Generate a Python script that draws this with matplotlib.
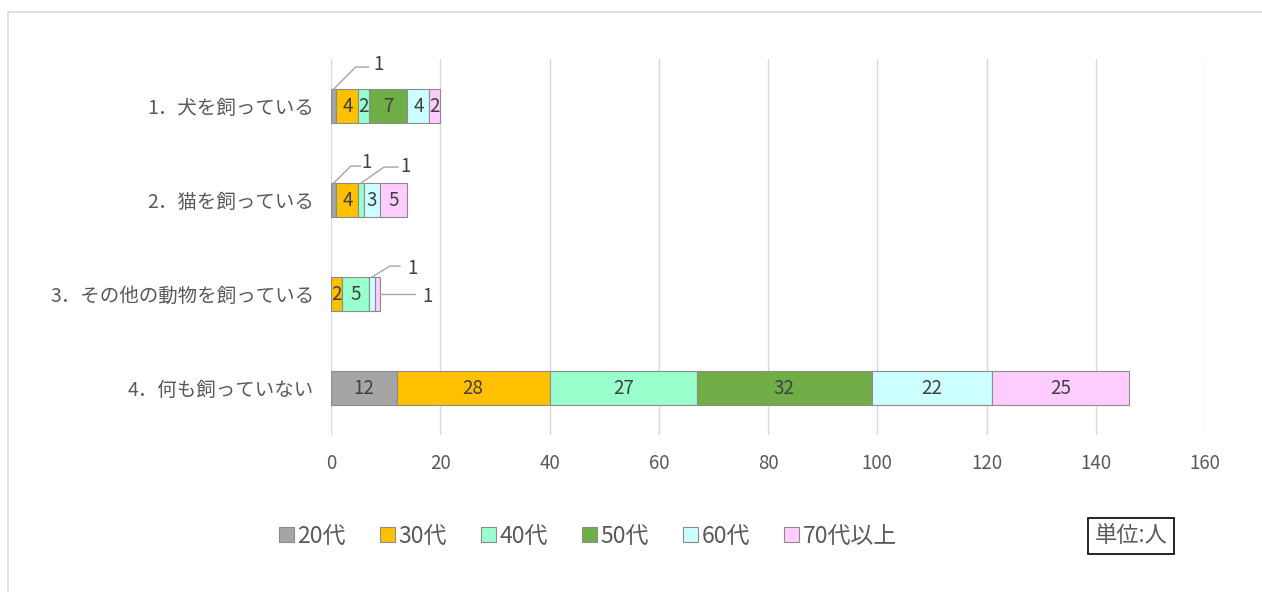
import numpy as np
import matplotlib.pyplot as plt
from matplotlib.patches import Rectangle

plt.rcParams['font.family'] = ['Noto Sans CJK JP', 'DejaVu Sans']

categories = ['1．犬を飼っている', '2．猫を飼っている', '3．その他の動物を飼っている', '4．何も飼っていない']
ages = ['20代', '30代', '40代', '50代', '60代', '70代以上']
# rows: age groups, columns: categories
counts = {
    '20代':     [1, 1, 0, 12],
    '30代':     [4, 4, 2, 28],
    '40代':     [2, 1, 5, 27],
    '50代':     [7, 0, 0, 32],
    '60代':     [4, 3, 1, 22],
    '70代以上': [2, 5, 1, 25],
}
colors = ['#A5A5A5', '#FFC000', '#99FFCC', '#70AD47', '#CCFFFF', '#FFCCFF']

fig = plt.figure(figsize=(12.62, 5.92), dpi=100)
fig.patches.append(Rectangle((8 / 1262, -0.1), 1.2, 1 - 12 / 592 + 0.1,
                             transform=fig.transFigure, fill=False,
                             edgecolor='#d9d9d9', linewidth=1.2))
ax = fig.add_axes([331 / 1262, 1 - 435 / 592, 874 / 1262, 376 / 592])

y = np.arange(len(categories))
h = 0.36
left = np.zeros(len(categories))
px_x = 874 / 160   # pixels per data unit along x
px_y = 94          # pixels per category along y

small = []  # segments too narrow for an inside label
for age, col in zip(ages, colors):
    vals = np.array(counts[age], dtype=float)
    ax.barh(y, vals, left=left, height=h, color=col, edgecolor='#8c8c8c', linewidth=0.8)
    for i, v in enumerate(vals):
        if v == 0:
            continue
        if v == 1:
            small.append((age, i, left[i], v))
        else:
            ax.text(left[i] + v / 2, y[i], f'{int(v)}', ha='center', va='center',
                    fontsize=13.5, color='#404040')
    left += vals


def leader(x0, y0, pts, label, tx, ty):
    xs = [x0] + [x0 + dx / px_x for dx, dy in pts]
    ys = [y0] + [y0 + dy / px_y for dx, dy in pts]
    ax.plot(xs, ys, color='#a6a6a6', linewidth=1, clip_on=False)
    ax.text(x0 + tx / px_x, y0 + ty / px_y, label, ha='center', va='center',
            fontsize=13.5, color='#404040', clip_on=False)


# callouts for the value-1 segments (pixel offsets from the anchor point)
callouts = {
    ('20代', 0): ('top', [(22, -22), (35, -22)], 45, -25),
    ('20代', 1): ('top', [(17, -17), (27, -17)], 33, -21),
    ('40代', 1): ('top', [(23, -16), (37, -16)], 45, -17),
    ('60代', 2): ('top', [(18, -11), (28, -11)], 41, -9),
    ('70代以上', 2): ('right', [(35, 0)], 47, 2),
}
for age, i, l, v in small:
    side, pts, tx, ty = callouts[(age, i)]
    if side == 'top':
        leader(l + v / 2, y[i] - h / 2, pts, f'{int(v)}', tx, ty)
    else:
        leader(l + v, y[i], pts, f'{int(v)}', tx, ty)

ax.set_yticks(y)
ax.set_yticklabels(categories, fontsize=14, color='#595959')
ax.set_ylim(3.5, -0.5)
ax.set_xlim(0, 160)
ax.set_xticks(np.arange(0, 161, 20))
ax.tick_params(axis='x', labelsize=13.5, colors='#595959', length=0, pad=13)
ax.tick_params(axis='y', length=0, pad=12)
ax.grid(axis='x', color='#d9d9d9', linewidth=1)
ax.set_axisbelow(True)
for s in ax.spines.values():
    s.set_visible(False)

handles = [Rectangle((0, 0), 1, 1, facecolor=c, edgecolor='#8c8c8c', linewidth=0.8) for c in colors]
fig.legend(handles, ages, loc='center', bbox_to_anchor=(588 / 1262, 1 - 536 / 592),
           ncol=6, frameon=False, fontsize=16.5, handlelength=0.65, handleheight=0.65,
           handletextpad=0.15, columnspacing=1.5, labelcolor='#595959')

fig.text(1131 / 1262, 1 - 536 / 592, '単位:人', ha='center', va='center', fontsize=16,
         color='#595959',
         bbox=dict(boxstyle='square,pad=0.3', facecolor='white', edgecolor='black', linewidth=1.2))

fig.savefig('out.png', dpi=100)
